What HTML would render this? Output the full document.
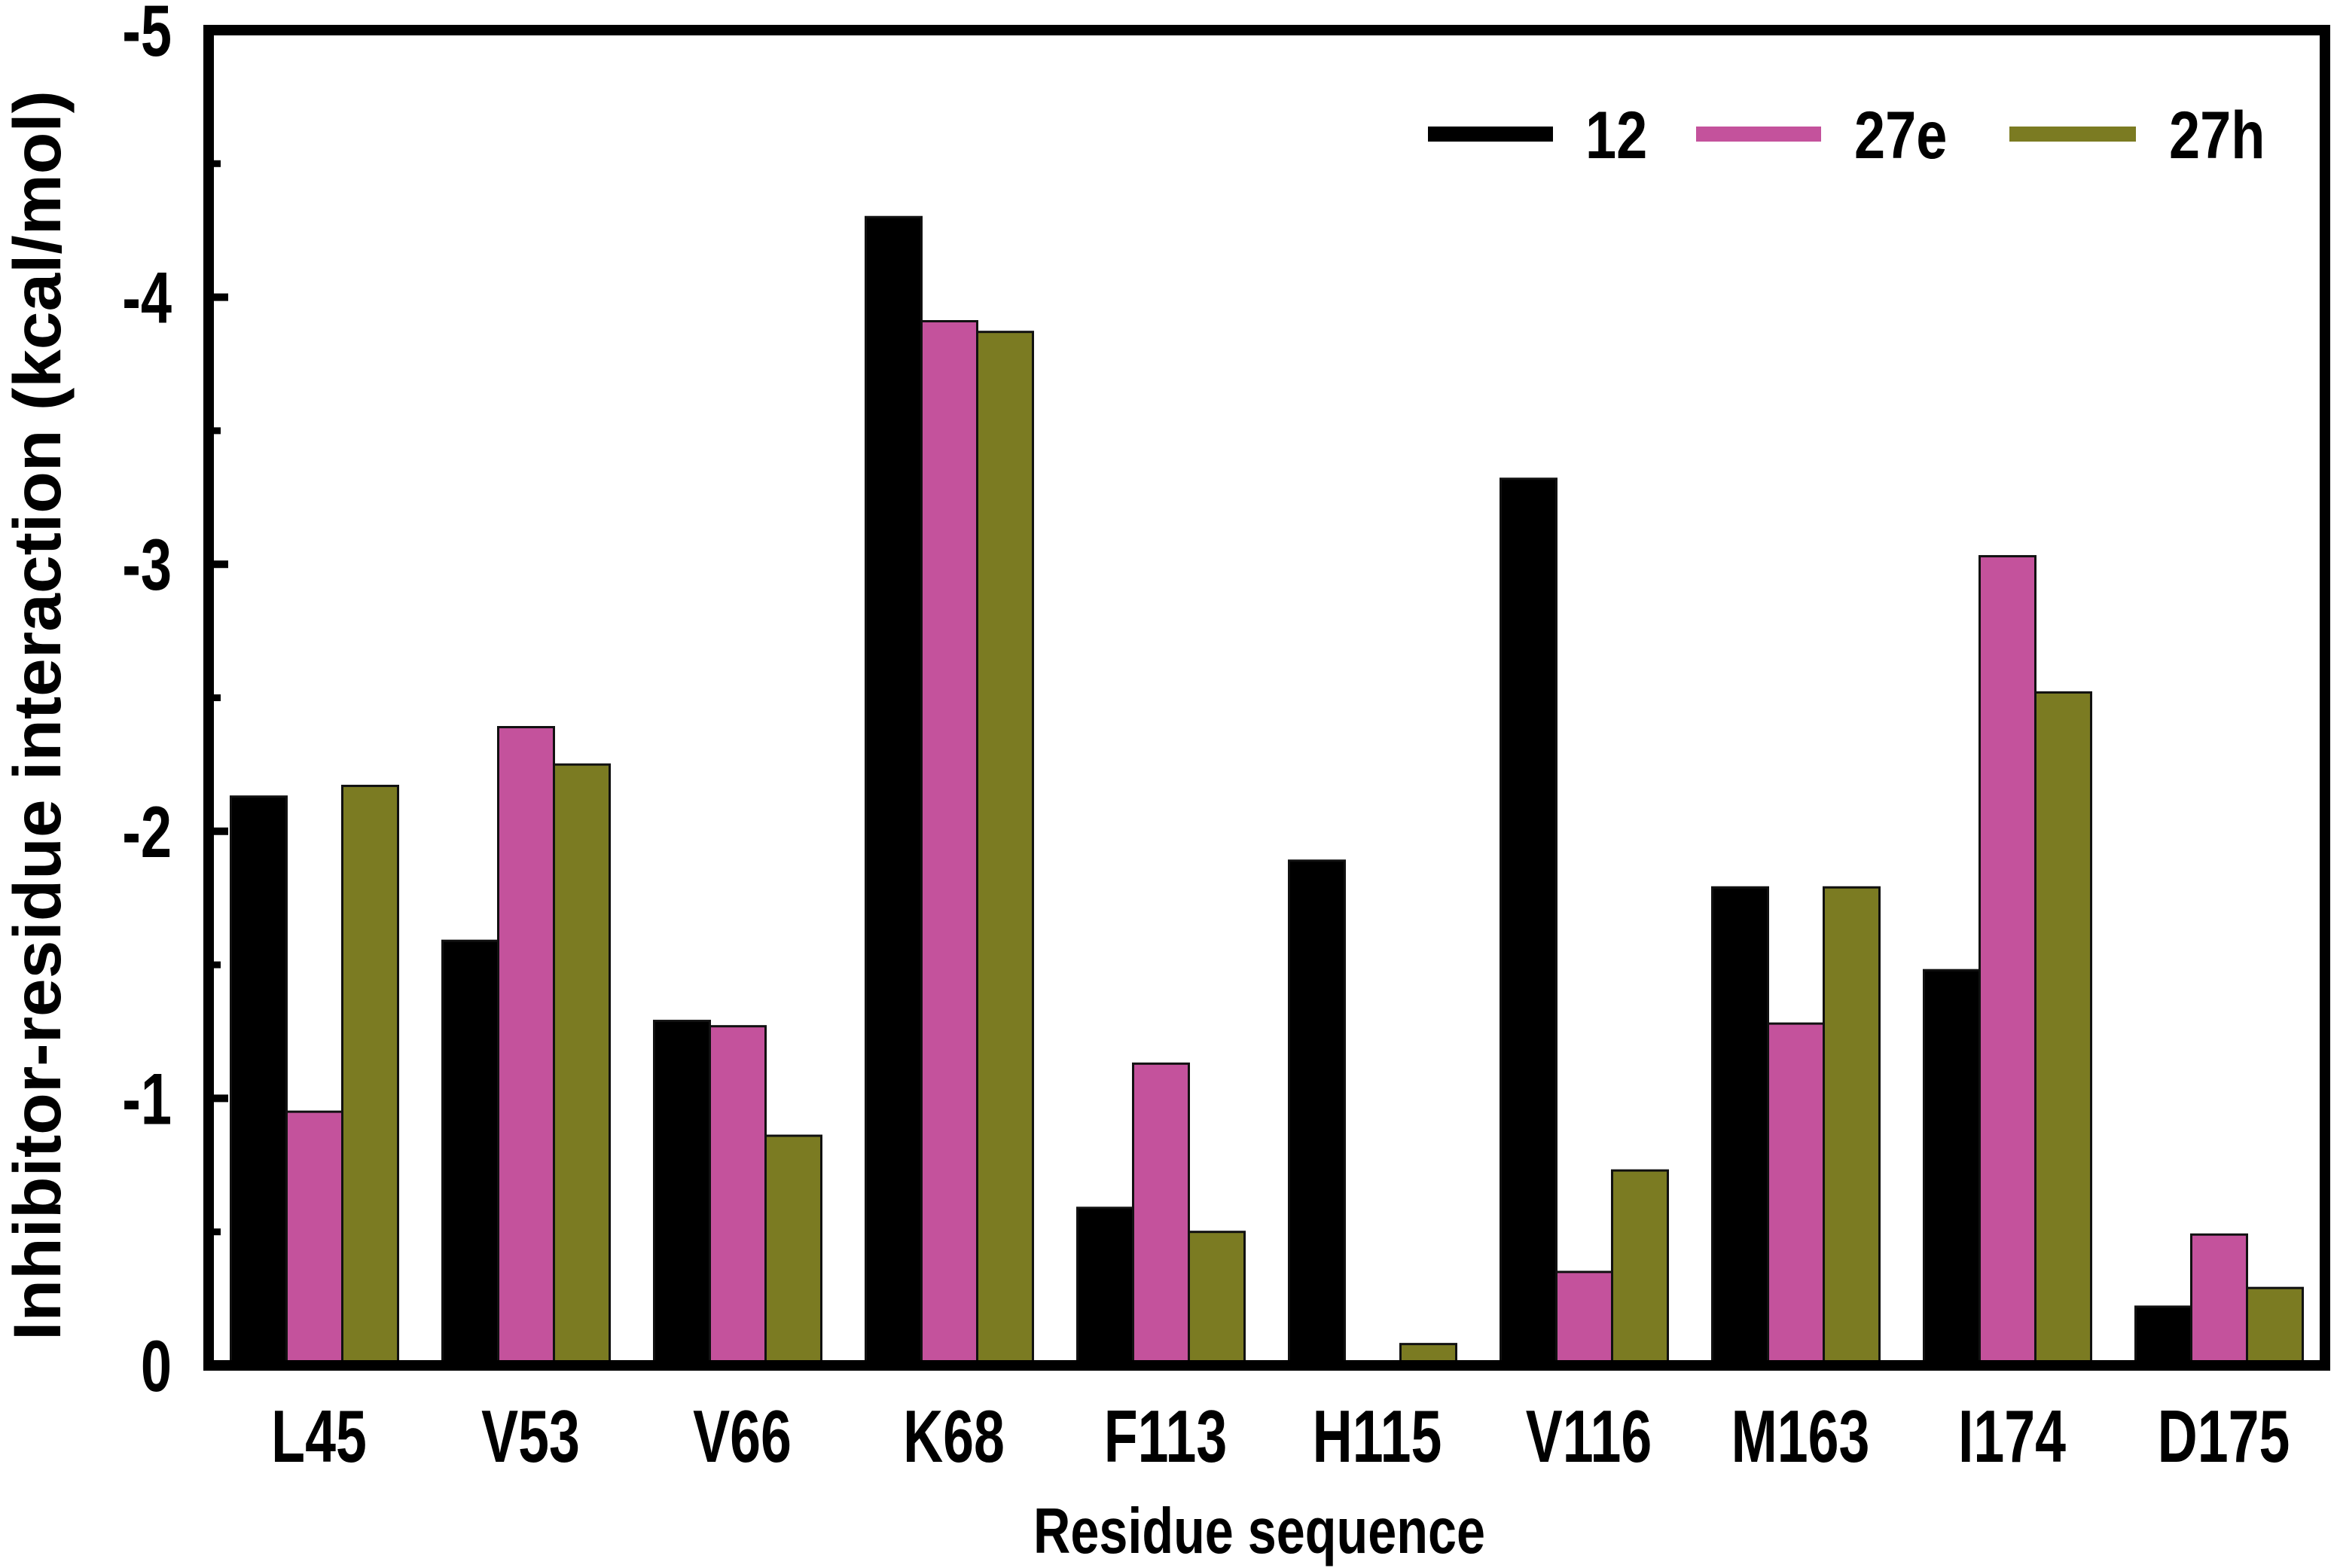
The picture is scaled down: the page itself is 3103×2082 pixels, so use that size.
<!DOCTYPE html>
<html><head><meta charset="utf-8"><style>
html,body{margin:0;padding:0;background:#fff}
svg{display:block}
text{font-family:"Liberation Sans",Arial,sans-serif;font-weight:bold;fill:#000}
</style></head><body>
<svg id="chart" width="3103" height="2082" viewBox="0 0 3103 2082" xmlns="http://www.w3.org/2000/svg">
<rect width="3103" height="2082" fill="#fff"/>
<g id="bars"></g>
<g id="axes"></g>
<text transform="translate(80,950) rotate(-90) scale(1,1.35)" text-anchor="middle" font-size="66" textLength="1660" lengthAdjust="spacingAndGlyphs">Inhibitor-residue interaction (kcal/mol)</text>
<text transform="translate(1672,2062) scale(1,1.3)" text-anchor="middle" font-size="66" textLength="600" lengthAdjust="spacingAndGlyphs">Residue sequence</text>
<g>
  <g><rect x="1896" y="168" width="166" height="20" fill="#000"/><text transform="translate(2105,210) scale(1,1.2)" font-size="74">12</text></g>
  <g><rect x="2252" y="168" width="166" height="20" fill="#C4529C"/><text transform="translate(2462,210) scale(1,1.2)" font-size="74">27e</text></g>
  <g><rect x="2668" y="168" width="168" height="20" fill="#7B7B22"/><text transform="translate(2880,210) scale(1,1.2)" font-size="74">27h</text></g>
</g>
</svg>
<script>
const categories = ["L45","V53","V66","K68","F113","H115","V116","M163","I174","D175"];
const series12 = [-2.13,-1.59,-1.29,-4.30,-0.59,-1.89,-3.32,-1.79,-1.48,-0.22];
const series27e = [-0.95,-2.39,-1.27,-3.91,-1.13,0,-0.35,-1.28,-3.03,-0.49];
const series27h = [-2.17,-2.25,-0.86,-3.87,-0.50,-0.08,-0.73,-1.79,-2.52,-0.29];
const yTicks = [0,-1,-2,-3,-4,-5];
const yTickLabels = ["0","-1","-2","-3","-4","-5"];
const seriesColors = ["#000000","#C4529C","#7B7B22"];

const NS="http://www.w3.org/2000/svg";
const L=277,R=3087,T=40,B=1813;
const band=(R-L)/categories.length;
const barW=74;
function x(i){return L+band*(i+0.5);}
function y(v){return B-(-v)/5*(B-T);}
const bars=document.getElementById('bars');
const all=[series12,series27e,series27h];
all.forEach((s,si)=>{
  s.forEach((v,i)=>{
    if(v===0)return;
    const r=document.createElementNS(NS,'rect');
    const x0=x(i)-1.5*barW+si*barW;
    r.setAttribute('x',x0);
    r.setAttribute('y',y(v));
    r.setAttribute('width',barW);
    r.setAttribute('height',B-y(v));
    r.setAttribute('fill',seriesColors[si]);
    r.setAttribute('stroke','#111');
    r.setAttribute('stroke-width','3');
    
    
    bars.appendChild(r);
  });
});
const axes=document.getElementById('axes');
const frame=document.createElementNS(NS,'rect');
frame.setAttribute('x',L);frame.setAttribute('y',T);
frame.setAttribute('width',R-L);frame.setAttribute('height',B-T);
frame.setAttribute('fill','none');frame.setAttribute('stroke','#000');frame.setAttribute('stroke-width','14');


axes.appendChild(frame);
yTicks.forEach((t,k)=>{
  const ln=document.createElementNS(NS,'line');
  ln.setAttribute('x1',L);ln.setAttribute('x2',L+26);
  ln.setAttribute('y1',y(t));ln.setAttribute('y2',y(t));
  ln.setAttribute('stroke','#000');ln.setAttribute('stroke-width','10');
  
  
  axes.appendChild(ln);
  if(k<yTicks.length-1){
    const m=document.createElementNS(NS,'line');
    const ym=y(t-0.5);
    m.setAttribute('x1',L);m.setAttribute('x2',L+16);
    m.setAttribute('y1',ym);m.setAttribute('y2',ym);
    m.setAttribute('stroke','#000');m.setAttribute('stroke-width','9');
    
    
    axes.appendChild(m);
  }
  const tx=document.createElementNS(NS,'text');
  tx.setAttribute('transform','translate(228,'+(y(t)+34)+') scale(1,1.3)');
  tx.setAttribute('text-anchor','end');tx.setAttribute('font-size','74');
  tx.textContent=yTickLabels[k];
  
  
  axes.appendChild(tx);
});
categories.forEach((c,i)=>{
  const tx=document.createElementNS(NS,'text');
  tx.setAttribute('transform','translate('+(x(i)+6)+',1941) scale(1.05,1.4)');
  tx.setAttribute('text-anchor','middle');tx.setAttribute('font-size','70');
  tx.textContent=c;
  
  
  axes.appendChild(tx);
});
</script>
</body></html>
